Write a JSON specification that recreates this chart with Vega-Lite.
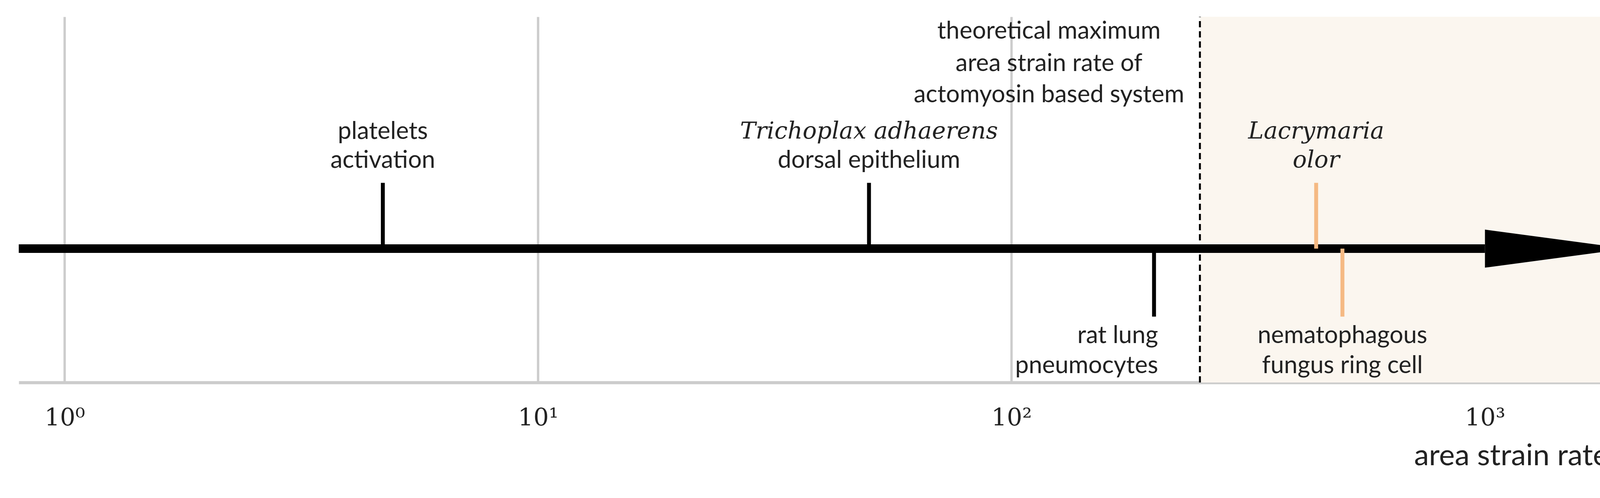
{
  "$schema": "https://vega.github.io/schema/vega-lite/v6.json",
  "width": 4420,
  "height": 1276,
  "autosize": {"type": "fit", "contains": "padding"},
  "padding": {"left": 37, "top": 40, "right": 42, "bottom": 70},
  "background": "white",
  "config": {"view": {"stroke": null}, "font": "Lato"},
  "encoding": {
    "x": {
      "field": "x", "type": "quantitative",
      "scale": {"type": "log", "domain": [0.8, 2990], "nice": false},
      "axis": {
        "values": [1, 10, 100, 1000],
        "labelExpr": "datum.value == 1 ? '10⁰' : datum.value == 10 ? '10¹' : datum.value == 100 ? '10²' : '10³'",
        "labelFont": "DejaVu Serif", "labelFontSize": 62, "labelColor": "#222",
        "labelPadding": 60, "ticks": false,
        "grid": true, "gridColor": "#cccccc", "gridWidth": 6,
        "domainColor": "#cccccc", "domainWidth": 8,
        "title": "area strain rate (%/sec)", "titleFont": "Lato", "titleFontSize": 76,
        "titleFontWeight": "normal", "titleColor": "#222",
        "titleAnchor": "end", "titlePadding": 30
      }
    }
  },
  "layer": [
    {
      "data": {"values": [{"x": 250, "x2": 2990}]},
      "mark": {"type": "rect", "color": "#fbf6ef"},
      "encoding": {"x2": {"field": "x2"}, "y": {"datum": 0, "type": "quantitative", "scale": {"domain": [0, 1], "nice": false, "zero": false}, "axis": null}, "y2": {"datum": 1}}
    },
    {
      "data": {"values": [{"x": 250}]},
      "mark": {"type": "rule", "color": "black", "strokeWidth": 5, "strokeDash": [16, 10]},
      "encoding": {"y": {"datum": 0, "type": "quantitative"}, "y2": {"datum": 1}}
    },
    {
      "data": {"values": [{"x": 0.8, "x2": 1000, "y": 0.366}]},
      "mark": {"type": "rule", "color": "black", "strokeWidth": 22},
      "encoding": {"x2": {"field": "x2"}, "y": {"field": "y", "type": "quantitative"}}
    },
    {
      "data": {"values": [{"x": 1000, "y": 0.314, "y2": 0.418}, {"x": 2000, "y": 0.366, "y2": 0.366}]},
      "mark": {"type": "area", "color": "black"},
      "encoding": {"y": {"field": "y", "type": "quantitative"}, "y2": {"field": "y2"}}
    },
    {
      "data": {"values": [
        {"x": 4.7, "y": 0.366, "y2": 0.546, "c": "k"},
        {"x": 50, "y": 0.366, "y2": 0.546, "c": "k"},
        {"x": 200, "y": 0.366, "y2": 0.18, "c": "k"},
        {"x": 440, "y": 0.366, "y2": 0.546, "c": "o"},
        {"x": 500, "y": 0.366, "y2": 0.18, "c": "o"}
      ]},
      "mark": {"type": "rule", "strokeWidth": 10},
      "encoding": {
        "y": {"field": "y", "type": "quantitative"}, "y2": {"field": "y2"},
        "color": {"field": "c", "type": "nominal", "scale": {"domain": ["k", "o"], "range": ["black", "#f5b983"]}, "legend": null}
      }
    },
    {
      "data": {"values": [
        {"x": 4.7, "y": 0.686, "text": "platelets"},
        {"x": 4.7, "y": 0.607, "text": "activation"},
        {"x": 50, "y": 0.607, "text": "dorsal epithelium"},
        {"x": 120, "y": 0.960, "text": "theoretical maximum"},
        {"x": 120, "y": 0.872, "text": "area strain rate of"},
        {"x": 120, "y": 0.787, "text": "actomyosin based system"},
        {"x": 500, "y": 0.128, "text": "nematophagous"},
        {"x": 500, "y": 0.046, "text": "fungus ring cell"}
      ]},
      "mark": {"type": "text", "fontSize": 62, "align": "center", "baseline": "middle", "color": "#222"},
      "encoding": {"y": {"field": "y", "type": "quantitative"}, "text": {"field": "text"}}
    },
    {
      "data": {"values": [
        {"x": 204, "y": 0.128, "text": "rat lung"},
        {"x": 204, "y": 0.046, "text": "pneumocytes"}
      ]},
      "mark": {"type": "text", "fontSize": 62, "align": "right", "baseline": "middle", "color": "#222"},
      "encoding": {"y": {"field": "y", "type": "quantitative"}, "text": {"field": "text"}}
    },
    {
      "data": {"values": [
        {"x": 50, "y": 0.686, "text": "Trichoplax adhaerens"},
        {"x": 440, "y": 0.686, "text": "Lacrymaria"},
        {"x": 440, "y": 0.607, "text": "olor"}
      ]},
      "mark": {"type": "text", "font": "DejaVu Serif", "fontStyle": "italic", "fontSize": 60, "align": "center", "baseline": "middle", "color": "#222"},
      "encoding": {"y": {"field": "y", "type": "quantitative"}, "text": {"field": "text"}}
    }
  ]
}
